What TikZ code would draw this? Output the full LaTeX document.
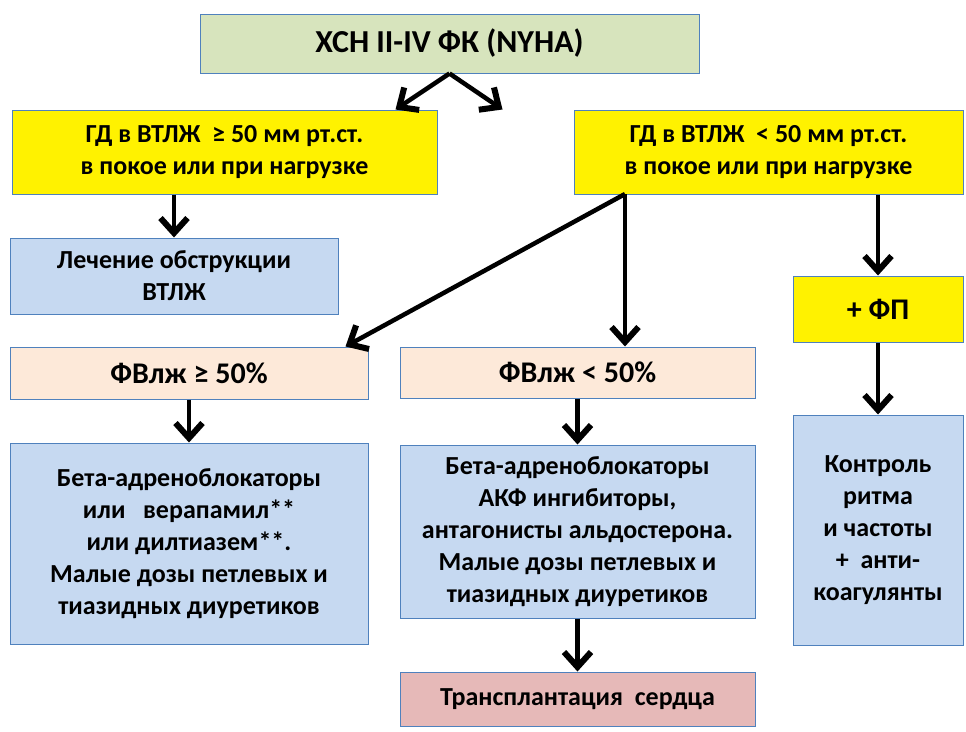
\documentclass[tikz,border=0pt]{standalone}
\usepackage{fontspec}
\setmainfont{Carlito}
\usetikzlibrary{arrows.meta}

\definecolor{frame}{RGB}{79,129,189}
\definecolor{titlegreen}{RGB}{215,228,189}
\definecolor{peach}{RGB}{253,233,217}
\definecolor{lightblue}{RGB}{198,217,241}
\definecolor{rose}{RGB}{230,185,184}

\begin{document}
\begin{tikzpicture}[x=1pt,y=-1pt]

      \useasboundingbox (0,0) rectangle (966,731);

      \begin{scope}[every node/.style={rectangle,draw=frame,line width=1pt,align=center,
          font=\bfseries\fontsize{26}{32}\selectfont,inner sep=0pt}]
        \node[fill=titlegreen,minimum width=499pt,minimum height=59pt,
          font=\bfseries\fontsize{32}{38}\selectfont] (1) at (449.5,43.5) {ХСН II-IV ФК (NYHA)};
        \node[fill=yellow,minimum width=425pt,minimum height=84pt] (2) at (224.5,152)
          {ГД в ВТЛЖ\ \ ≥ 50 мм рт.ст.\\в покое или при нагрузке};
        \node[fill=yellow,minimum width=389pt,minimum height=84pt] (3) at (768.5,152)
          {ГД в ВТЛЖ\ \ < 50 мм рт.ст.\\в покое или при нагрузке};
        \node[fill=lightblue,minimum width=328pt,minimum height=76pt] (4) at (174,276)
          {Лечение обструкции\\ВТЛЖ};
        \node[fill=peach,minimum width=358pt,minimum height=52pt,
          font=\bfseries\fontsize{30}{34}\selectfont] (5) at (189,373) {ФВлж ≥ 50\%};
        \node[fill=peach,minimum width=355pt,minimum height=51pt,
          font=\bfseries\fontsize{30}{34}\selectfont] (6) at (577.5,372.5) {ФВлж < 50\%};
        \node[fill=yellow,minimum width=170pt,minimum height=66pt,
          font=\bfseries\fontsize{30}{34}\selectfont] (7) at (878,309) {+ ФП};
        \node[fill=lightblue,minimum width=358pt,minimum height=201pt] (8) at (189,543.5)
          {Бета-адреноблокаторы\\или\ \ \ верапамил**\\или дилтиазем**.\\Малые\ дозы петлевых и\\тиазидных\ диуретиков};
        \node[fill=lightblue,minimum width=355pt,minimum height=173pt] (9) at (577.5,531.5)
          {Бета-адреноблокаторы\\АКФ\ ингибиторы,\\антагонисты\ альдостерона.\\Малые\ дозы петлевых и\\тиазидных\ диуретиков};
        \node[fill=lightblue,minimum width=170pt,minimum height=230pt] (10) at (878,530)
          {Контроль\\ритма\\и частоты\\+\ \ анти-\\коагулянты};
        \node[fill=rose,minimum width=355pt,minimum height=54pt] (11) at (577.5,699)
          {Трансплантация\ \ сердца};
      \end{scope}

      \coordinate (s) at (625,194);

      \begin{scope}[every edge/.style={draw,line width=4.5pt,
          -{Straight Barb[length=15pt,width=27pt,line width=6pt]}}]
        \path (1.south) edge ([xshift=-42pt]2.north east);
        \path (1.south) edge ([xshift=-71pt]3.north west);
        \path (4.north |- 2.south) edge (4.north);
        \path (s) edge ([xshift=-23pt]5.north east);
        \path (s) edge (s |- 6.north);
        \path (7.north |- 3.south) edge (7.north);
        \path (5.south) edge (8.north);
        \path (6.south) edge (9.north);
        \path (9.south) edge (11.north);
        \path (7.south) edge (10.north);
      \end{scope}

    \end{tikzpicture}
\end{document}
